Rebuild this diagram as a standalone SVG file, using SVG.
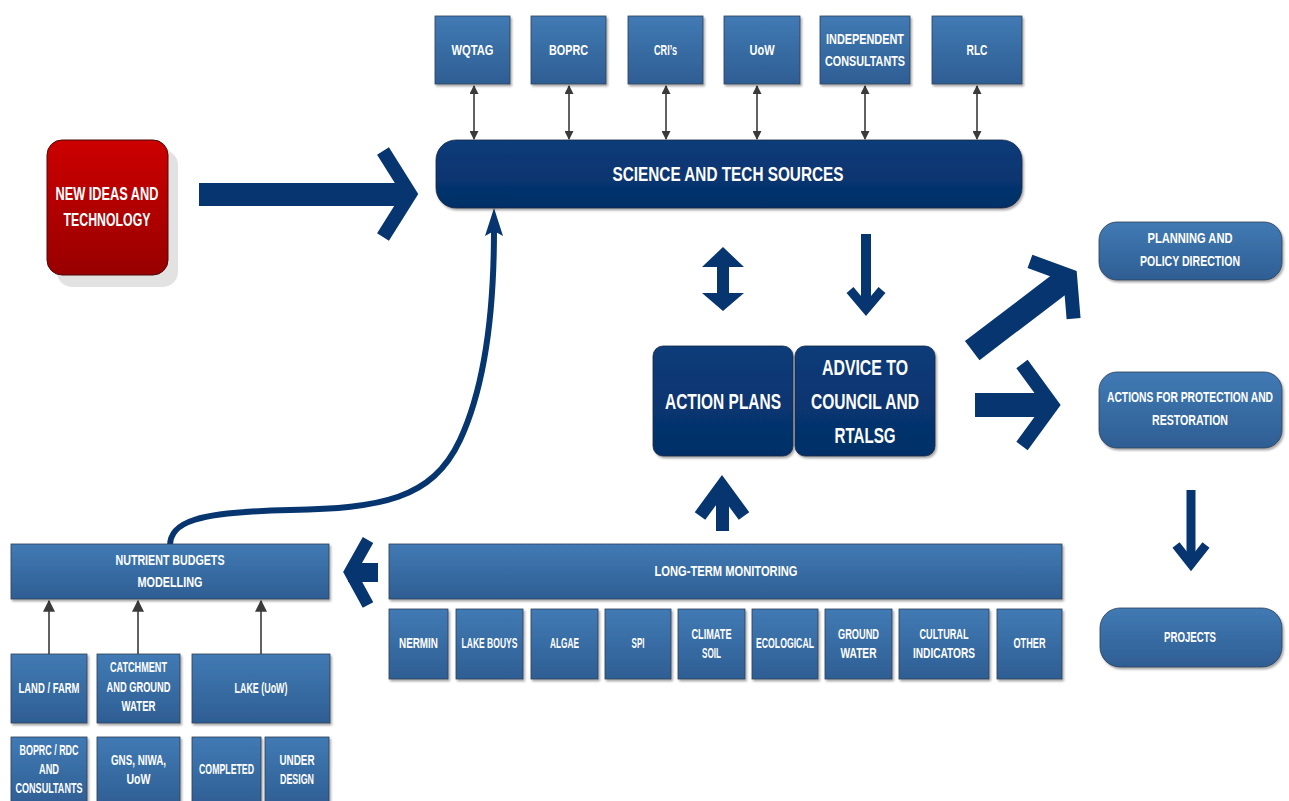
<svg xmlns="http://www.w3.org/2000/svg" width="1289" height="801" viewBox="0 0 1289 801">
<defs>
<linearGradient id="mb" x1="0" y1="0" x2="0" y2="1"><stop offset="0" stop-color="#417ab4"/><stop offset="1" stop-color="#2e5e93"/></linearGradient>
<linearGradient id="nv" x1="0" y1="0" x2="0" y2="1"><stop offset="0" stop-color="#0b3c7a"/><stop offset="1" stop-color="#042f68"/></linearGradient>
<linearGradient id="rd" x1="0" y1="0" x2="0" y2="1"><stop offset="0" stop-color="#cc0000"/><stop offset="1" stop-color="#980000"/></linearGradient>
<filter id="sh" x="-10%" y="-10%" width="130%" height="140%"><feDropShadow dx="1.5" dy="2" stdDeviation="1" flood-color="#000" flood-opacity="0.35"/></filter>
<marker id="ah" viewBox="0 0 10 10" refX="9" refY="5" markerWidth="10" markerHeight="9" markerUnits="userSpaceOnUse" orient="auto-start-reverse"><path d="M0,0 L10,5 L0,10 Z" fill="#3a3a3a"/></marker>
<marker id="ah2" viewBox="0 0 10 10" refX="9" refY="5" markerWidth="12" markerHeight="12" markerUnits="userSpaceOnUse" orient="auto"><path d="M0,0 L10,5 L0,10 Z" fill="#3a3a3a"/></marker>
</defs>
<style>
.box{fill:url(#mb);stroke:#2f3f55;stroke-width:0.8;filter:url(#sh)}
.nbox{fill:url(#nv);stroke:#1c2a40;stroke-width:0.8;filter:url(#sh)}
.t{fill:#fff;font-family:"Liberation Sans",Arial,sans-serif;font-weight:bold;text-anchor:middle}
.s{font-size:14px}
.l{font-size:21px}
.thin{stroke:#3a3a3a;stroke-width:1.6;fill:none}
.nvs{stroke:#07356f;fill:none;stroke-linejoin:miter;stroke-miterlimit:10}
.nvf{fill:#07356f}
</style>

<g id="connectors">
  <line class="thin" x1="474" y1="86" x2="474" y2="139" marker-start="url(#ah)" marker-end="url(#ah)"/>
  <line class="thin" x1="569" y1="86" x2="569" y2="139" marker-start="url(#ah)" marker-end="url(#ah)"/>
  <line class="thin" x1="666" y1="86" x2="666" y2="139" marker-start="url(#ah)" marker-end="url(#ah)"/>
  <line class="thin" x1="757" y1="86" x2="757" y2="139" marker-start="url(#ah)" marker-end="url(#ah)"/>
  <line class="thin" x1="865" y1="86" x2="865" y2="139" marker-start="url(#ah)" marker-end="url(#ah)"/>
  <line class="thin" x1="977" y1="86" x2="977" y2="139" marker-start="url(#ah)" marker-end="url(#ah)"/>
  <rect class="nvf" x="199" y="183" width="209" height="23"/>
  <polyline class="nvs" stroke-width="14" points="383,151 410,194 383,237"/>
  <polygon class="nvf" points="723,247 744,267 729,267 729,293 744,293 723,311 702,293 717,293 717,267 702,267"/>
  <line class="nvs" stroke-width="10" x1="866" y1="234" x2="866" y2="308"/>
  <polyline class="nvs" stroke-width="9" points="850,290 866,309 882,290"/>
  <g transform="translate(977,347) rotate(-37.3)">
    <rect class="nvf" x="-6" y="-12" width="116" height="24"/>
    <polyline class="nvs" stroke-width="14" points="94,-36 117,0 94,36"/>
  </g>
  <rect class="nvf" x="975" y="393" width="74" height="24"/>
  <polyline class="nvs" stroke-width="14" points="1022,364 1052,405 1022,446"/>
  <line class="nvs" stroke-width="9" x1="1191" y1="490" x2="1191" y2="563"/>
  <polyline class="nvs" stroke-width="9" points="1176,545 1191,564 1206,545"/>
  <rect class="nvf" x="716" y="488" width="13" height="43"/>
  <polyline class="nvs" stroke-width="13" points="700,516 722,486 744,516"/>
  <rect class="nvf" x="348" y="563" width="30" height="19"/>
  <polyline class="nvs" stroke-width="12" points="368,540 350,572 368,605"/>
  <path class="nvs" stroke-width="6" stroke-linecap="round" d="M170,546 C170,522 196,512 290,510 C380,508 432,500 460,440 C488,380 494,300 494,230"/>
  <polygon class="nvf" points="494,208 503,236 494,231 485,236"/>
  <line class="thin" stroke-width="2" x1="49" y1="654" x2="49" y2="601" marker-end="url(#ah2)"/>
  <line class="thin" stroke-width="2" x1="138" y1="654" x2="138" y2="601" marker-end="url(#ah2)"/>
  <line class="thin" stroke-width="2" x1="261" y1="654" x2="261" y2="601" marker-end="url(#ah2)"/>
</g>

<g id="wqtag"><rect class="box" x="435" y="16" width="75" height="68"/><text class="t s" x="472.5" y="55" textLength="42" lengthAdjust="spacingAndGlyphs">WQTAG</text></g>
<g id="boprc"><rect class="box" x="531" y="16" width="75" height="68"/><text class="t s" x="568.5" y="55" textLength="39" lengthAdjust="spacingAndGlyphs">BOPRC</text></g>
<g id="cris"><rect class="box" x="628" y="16" width="75" height="68"/><text class="t s" x="665.5" y="55" textLength="23" lengthAdjust="spacingAndGlyphs">CRI’s</text></g>
<g id="uow"><rect class="box" x="724" y="16" width="76" height="68"/><text class="t s" x="762" y="55" textLength="25" lengthAdjust="spacingAndGlyphs">UoW</text></g>
<g id="independent"><rect class="box" x="820" y="16" width="90" height="68"/><text class="t s" x="865" y="44" textLength="78" lengthAdjust="spacingAndGlyphs">INDEPENDENT</text><text class="t s" x="865" y="66" textLength="80" lengthAdjust="spacingAndGlyphs">CONSULTANTS</text></g>
<g id="rlc"><rect class="box" x="932" y="16" width="90" height="68"/><text class="t s" x="977" y="55" textLength="21" lengthAdjust="spacingAndGlyphs">RLC</text></g>

<g id="science"><rect class="nbox" x="436" y="140" width="586" height="68" rx="20"/><text class="t l" x="728" y="181" textLength="231" lengthAdjust="spacingAndGlyphs">SCIENCE AND TECH SOURCES</text></g>

<g id="newideas">
  <rect x="57" y="150" width="121" height="137" rx="15" fill="#e2e2e2"/>
  <rect x="47" y="140" width="121" height="135" rx="15" fill="url(#rd)" stroke="#4a0a0a" stroke-width="1"/>
  <text class="t" font-size="18" x="107" y="200" textLength="103" lengthAdjust="spacingAndGlyphs">NEW IDEAS AND</text>
  <text class="t" font-size="18" x="107" y="226" textLength="87" lengthAdjust="spacingAndGlyphs">TECHNOLOGY</text>
</g>

<g id="actionplans"><rect class="nbox" x="653" y="346" width="140" height="110" rx="10"/><text class="t" font-size="22" x="723" y="409" textLength="116" lengthAdjust="spacingAndGlyphs">ACTION PLANS</text></g>
<g id="advice"><rect class="nbox" x="795" y="346" width="140" height="110" rx="10"/>
  <text class="t" font-size="22" x="865" y="375" textLength="86" lengthAdjust="spacingAndGlyphs">ADVICE TO</text>
  <text class="t" font-size="22" x="865" y="409" textLength="108" lengthAdjust="spacingAndGlyphs">COUNCIL AND</text>
  <text class="t" font-size="22" x="865" y="443" textLength="61" lengthAdjust="spacingAndGlyphs">RTALSG</text>
</g>

<g id="planning"><rect class="box" x="1099" y="222" width="183" height="58" rx="18"/>
  <text class="t s" x="1190" y="243" textLength="85" lengthAdjust="spacingAndGlyphs">PLANNING AND</text>
  <text class="t s" x="1190" y="266" textLength="100" lengthAdjust="spacingAndGlyphs">POLICY DIRECTION</text></g>
<g id="actions"><rect class="box" x="1099" y="372" width="183" height="76" rx="18"/>
  <text class="t s" x="1190" y="402" textLength="166" lengthAdjust="spacingAndGlyphs">ACTIONS FOR PROTECTION AND</text>
  <text class="t s" x="1190" y="425" textLength="76" lengthAdjust="spacingAndGlyphs">RESTORATION</text></g>
<g id="projects"><rect class="box" x="1100" y="608" width="182" height="59" rx="20"/>
  <text class="t s" x="1190" y="642" textLength="52" lengthAdjust="spacingAndGlyphs">PROJECTS</text></g>

<g id="nutrient"><rect class="box" x="11" y="544" width="318" height="55"/>
  <text class="t s" x="170" y="565" textLength="109" lengthAdjust="spacingAndGlyphs">NUTRIENT BUDGETS</text>
  <text class="t s" x="170" y="587" textLength="65" lengthAdjust="spacingAndGlyphs">MODELLING</text></g>
<g id="landfarm"><rect class="box" x="11" y="654" width="76" height="69"/><text class="t s" x="49" y="693" textLength="61" lengthAdjust="spacingAndGlyphs">LAND / FARM</text></g>
<g id="catchment"><rect class="box" x="97" y="654" width="83" height="69"/>
  <text class="t s" x="138.5" y="672" textLength="57" lengthAdjust="spacingAndGlyphs">CATCHMENT</text>
  <text class="t s" x="138.5" y="692" textLength="64" lengthAdjust="spacingAndGlyphs">AND GROUND</text>
  <text class="t s" x="138.5" y="711" textLength="34" lengthAdjust="spacingAndGlyphs">WATER</text></g>
<g id="lake"><rect class="box" x="192" y="654" width="138" height="69"/><text class="t s" x="261" y="693" textLength="53" lengthAdjust="spacingAndGlyphs">LAKE (UoW)</text></g>
<g id="boprcrdc"><rect class="box" x="11" y="737" width="76" height="70"/>
  <text class="t s" x="49" y="755" textLength="59" lengthAdjust="spacingAndGlyphs">BOPRC / RDC</text>
  <text class="t s" x="49" y="774" textLength="20" lengthAdjust="spacingAndGlyphs">AND</text>
  <text class="t s" x="49" y="793" textLength="67" lengthAdjust="spacingAndGlyphs">CONSULTANTS</text></g>
<g id="gns"><rect class="box" x="97" y="737" width="83" height="70"/>
  <text class="t s" x="138.5" y="765" textLength="55" lengthAdjust="spacingAndGlyphs">GNS, NIWA,</text>
  <text class="t s" x="138.5" y="784" textLength="24" lengthAdjust="spacingAndGlyphs">UoW</text></g>
<g id="completed"><rect class="box" x="192" y="737" width="69" height="70"/><text class="t s" x="226.5" y="774" textLength="55" lengthAdjust="spacingAndGlyphs">COMPLETED</text></g>
<g id="underdesign"><rect class="box" x="265" y="737" width="64" height="70"/>
  <text class="t s" x="297" y="765" textLength="35" lengthAdjust="spacingAndGlyphs">UNDER</text>
  <text class="t s" x="297" y="784" textLength="34" lengthAdjust="spacingAndGlyphs">DESIGN</text></g>

<g id="monitoring"><rect class="box" x="389" y="544" width="673" height="55"/><text class="t s" x="726" y="576" textLength="143" lengthAdjust="spacingAndGlyphs">LONG-TERM MONITORING</text></g>
<g id="nermin"><rect class="box" x="389" y="609" width="59" height="70"/><text class="t s" x="418.5" y="648" textLength="39" lengthAdjust="spacingAndGlyphs">NERMIN</text></g>
<g id="lakebouys"><rect class="box" x="456" y="609" width="67" height="70"/><text class="t s" x="489.5" y="648" textLength="56" lengthAdjust="spacingAndGlyphs">LAKE BOUYS</text></g>
<g id="algae"><rect class="box" x="531" y="609" width="67" height="70"/><text class="t s" x="564.5" y="648" textLength="29" lengthAdjust="spacingAndGlyphs">ALGAE</text></g>
<g id="spi"><rect class="box" x="605" y="609" width="66" height="70"/><text class="t s" x="638" y="648" textLength="13" lengthAdjust="spacingAndGlyphs">SPI</text></g>
<g id="climatesoil"><rect class="box" x="678" y="609" width="67" height="70"/>
  <text class="t s" x="711.5" y="639" textLength="40" lengthAdjust="spacingAndGlyphs">CLIMATE</text>
  <text class="t s" x="711.5" y="658" textLength="19" lengthAdjust="spacingAndGlyphs">SOIL</text></g>
<g id="ecological"><rect class="box" x="752" y="609" width="66" height="70"/><text class="t s" x="785" y="648" textLength="58" lengthAdjust="spacingAndGlyphs">ECOLOGICAL</text></g>
<g id="groundwater"><rect class="box" x="825" y="609" width="67" height="70"/>
  <text class="t s" x="858.5" y="639" textLength="41" lengthAdjust="spacingAndGlyphs">GROUND</text>
  <text class="t s" x="858.5" y="658" textLength="36" lengthAdjust="spacingAndGlyphs">WATER</text></g>
<g id="cultural"><rect class="box" x="899" y="609" width="90" height="70"/>
  <text class="t s" x="944" y="639" textLength="49" lengthAdjust="spacingAndGlyphs">CULTURAL</text>
  <text class="t s" x="944" y="658" textLength="62" lengthAdjust="spacingAndGlyphs">INDICATORS</text></g>
<g id="other"><rect class="box" x="997" y="609" width="65" height="70"/><text class="t s" x="1029.5" y="648" textLength="32" lengthAdjust="spacingAndGlyphs">OTHER</text></g>
</svg>
